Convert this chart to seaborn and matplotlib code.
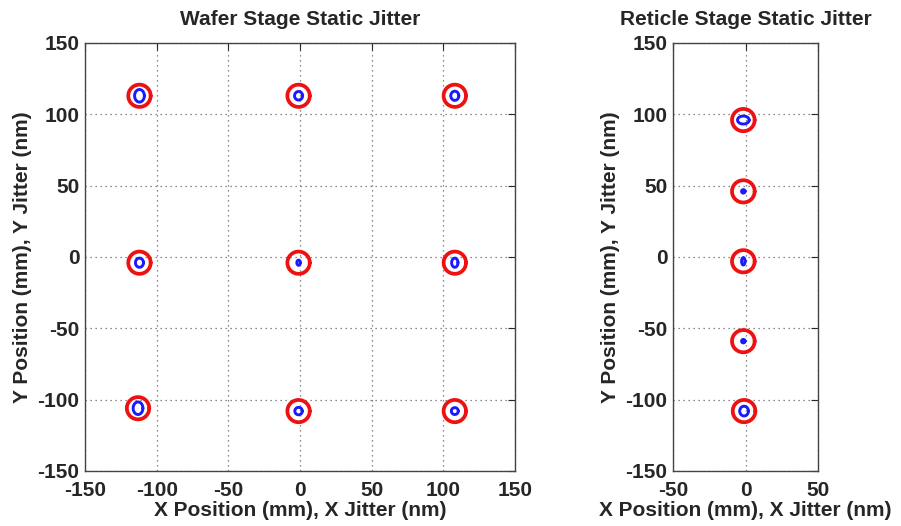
import numpy as np
import pandas as pd
import matplotlib
matplotlib.use("Agg")
import matplotlib.pyplot as plt
import seaborn as sns

# ---- data ----
wafer_x = [-112, -1, 108, -112, -1, 108, -113, -1, 108]
wafer_y = [113, 113, 113, -4, -4, -4, -106, -108, -108]
wafer_jx = [3.4, 2.8, 2.8, 2.8, 1.2, 2.2, 3.4, 2.6, 2.4]
wafer_jy = [4.4, 3.0, 3.2, 3.2, 1.8, 3.2, 4.4, 2.6, 2.4]

reticle_x = [-1.5, -1.5, -1.5, -1.5, -1.0]
reticle_y = [96, 46, -3, -59, -108]
reticle_jx = [4.0, 1.2, 1.2, 1.2, 3.0]
reticle_jy = [2.8, 1.2, 2.6, 1.2, 3.4]

spec_radius = 7.8

wafer_ticks = [-150, -100, -50, 0, 50, 100, 150]
reticle_xticks = [-50, 0, 50]
y_ticks = [-150, -100, -50, 0, 50, 100, 150]

sns.set_style("white")
plt.rcParams["font.family"] = ["Liberation Sans", "DejaVu Sans"]
plt.rcParams["font.weight"] = "bold"
plt.rcParams["axes.unicode_minus"] = False


def ellipse_frame(xs, ys, rx, ry, n=120):
    t = np.linspace(0, 2 * np.pi, n)
    rows = []
    for i, (x0, y0, a, b) in enumerate(zip(xs, ys, rx, ry)):
        rows.append(pd.DataFrame({"x": x0 + a * np.cos(t),
                                  "y": y0 + b * np.sin(t),
                                  "id": i,
                                  "order": np.arange(n)}))
    return pd.concat(rows, ignore_index=True)


fig = plt.figure(figsize=(9.01, 5.26), dpi=100)
ax1 = fig.add_axes([85 / 901, 1 - 471 / 526, (515 - 85) / 901, (471 - 43) / 526])
ax2 = fig.add_axes([673 / 901, 1 - 471 / 526, (818 - 673) / 901, (471 - 43) / 526])


def draw(ax, xs, ys, jx, jy, xlim, xticks, title):
    red = ellipse_frame(xs, ys, [spec_radius] * len(xs), [spec_radius] * len(xs))
    blue = ellipse_frame(xs, ys, jx, jy)
    sns.lineplot(data=red, x="x", y="y", units="id", estimator=None,
                 sort=False, color="#ee1111", lw=2.7, ax=ax)
    sns.lineplot(data=blue, x="x", y="y", units="id", estimator=None,
                 sort=False, color="#1a1aff", lw=2.1, ax=ax)
    ax.set_xlim(*xlim)
    ax.set_ylim(-150, 150)
    ax.set_xticks(xticks)
    ax.set_yticks(y_ticks)
    ax.grid(True, color="#666666", linestyle=(0, (1, 3)), linewidth=0.9)
    ax.set_axisbelow(True)
    ax.tick_params(direction="in", top=True, right=True, length=5,
                   width=0.8, labelsize=15)
    ax.tick_params(axis="x", pad=7)
    ax.tick_params(axis="y", pad=4)
    for s in ax.spines.values():
        s.set_visible(True)
        s.set_color("#444444")
        s.set_linewidth(1.0)
    ax.set_xlabel("X Position (mm), X Jitter (nm)", fontsize=15,
                  fontweight="bold", labelpad=1)
    ax.set_ylabel("Y Position (mm), Y Jitter (nm)", fontsize=15,
                  fontweight="bold", labelpad=4)
    ax.set_title(title, fontsize=15, fontweight="bold", pad=13)
    for lab in ax.get_xticklabels() + ax.get_yticklabels():
        lab.set_fontweight("bold")


draw(ax1, wafer_x, wafer_y, wafer_jx, wafer_jy, (-150, 150), wafer_ticks,
     "Wafer Stage Static Jitter")
draw(ax2, reticle_x, reticle_y, reticle_jx, reticle_jy, (-50, 50), reticle_xticks,
     "Reticle Stage Static Jitter")

fig.savefig("out.png", dpi=100)
